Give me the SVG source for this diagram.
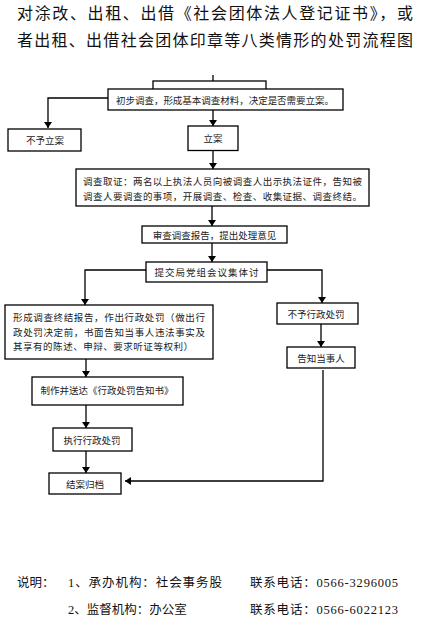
<svg xmlns="http://www.w3.org/2000/svg" width="443" height="626" viewBox="0 0 443 626">
<style>
.bg{fill:#fff}
.box{fill:#fff;stroke:#000;stroke-width:1.3}
.t{font-family:"Noto Sans CJK SC","Noto Sans CJK JP",sans-serif;font-size:9.5px;fill:#222;text-anchor:middle;dominant-baseline:central}
.tl{font-family:"Noto Sans CJK SC","Noto Sans CJK JP",sans-serif;font-size:9.5px;fill:#222;dominant-baseline:central}
.title{font-family:"Noto Sans CJK SC",sans-serif;font-size:16px;fill:#111}
.foot{font-family:"Liberation Serif","Noto Sans CJK SC",serif;font-size:12.5px;fill:#111}
.ln{fill:none;stroke:#000;stroke-width:1.3}
</style>
<defs>
<marker id="ah" viewBox="0 0 6 8" refX="6" refY="4" markerWidth="6" markerHeight="8" markerUnits="userSpaceOnUse" orient="auto">
<path d="M0,0 L6,4 L0,8 Z" fill="#000"/>
</marker>
</defs>
<rect class="bg" width="443" height="626"/>
<text class="title" x="17" y="19" textLength="396" lengthAdjust="spacing">对涂改、出租、出借《社会团体法人登记证书》，或</text>
<text class="title" x="17" y="46" textLength="396" lengthAdjust="spacing">者出租、出借社会团体印章等八类情形的处罚流程图</text>

<g id="connectors">
<path class="ln" d="M213,75 V89" marker-end="url(#ah)"/>
<path class="ln" d="M108,98 H48 V128" marker-end="url(#ah)"/>
<path class="ln" d="M213,110 V126" marker-end="url(#ah)"/>
<path class="ln" d="M213,150 V169" marker-end="url(#ah)"/>
<path class="ln" d="M212,206 V226" marker-end="url(#ah)"/>
<path class="ln" d="M212,243 V262" marker-end="url(#ah)"/>
<path class="ln" d="M146,270 H85 V305" marker-end="url(#ah)"/>
<path class="ln" d="M267,270 H322 V303" marker-end="url(#ah)"/>
<path class="ln" d="M321,324 V347" marker-end="url(#ah)"/>
<path class="ln" d="M86,359 V377" marker-end="url(#ah)"/>
<path class="ln" d="M86,405 V428" marker-end="url(#ah)"/>
<path class="ln" d="M86,451 V473" marker-end="url(#ah)"/>
<path class="ln" d="M323,370 V481 H125" marker-end="url(#ah)"/>
</g>

<g id="n0"><rect class="box" x="153" y="81" width="113" height="12"/></g>
<g id="n1"><rect class="box" x="108" y="89" width="235" height="21"/><text class="t" x="225" y="100" textLength="218" lengthAdjust="spacing">初步调查，形成基本调查材料，决定是否需要立案。</text></g>
<g id="n2"><rect class="box" x="8" y="129" width="73" height="22"/><text class="t" x="45" y="140">不予立案</text></g>
<g id="n3"><rect class="box" x="188" y="126" width="50" height="24.5"/><text class="t" x="213" y="138">立案</text></g>
<g id="n4"><rect class="box" x="76" y="169" width="293" height="37"/>
<text class="tl" x="83" y="181" textLength="279" lengthAdjust="spacing">调查取证：两名以上执法人员向被调查人出示执法证件，告知被</text>
<text class="tl" x="83" y="196" textLength="279" lengthAdjust="spacing">调查人要调查的事项，开展调查、检查、收集证据、调查终结。</text></g>
<g id="n5"><rect class="box" x="142" y="226" width="145" height="17"/><text class="t" x="214.5" y="234.5">审查调查报告，提出处理意见</text></g>
<g id="n6"><rect class="box" x="146" y="262" width="121" height="20"/><text class="t" x="206.5" y="272" textLength="104" lengthAdjust="spacing">提交局党组会议集体讨</text></g>
<g id="n7"><rect class="box" x="5" y="305" width="208" height="54"/>
<text class="tl" x="13" y="317" textLength="192" lengthAdjust="spacing">形成调查终结报告，作出行政处罚（做出行</text>
<text class="tl" x="13" y="332" textLength="192" lengthAdjust="spacing">政处罚决定前，书面告知当事人违法事实及</text>
<text class="tl" x="13" y="346" textLength="180" lengthAdjust="spacing">其享有的陈述、申辩、要求听证等权利）</text></g>
<g id="n8"><rect class="box" x="277" y="303" width="81" height="21"/><text class="t" x="316" y="313.5">不予行政处罚</text></g>
<g id="n9"><rect class="box" x="287" y="347" width="68" height="21"/><text class="t" x="321" y="357.5">告知当事人</text></g>
<g id="n10"><rect class="box" x="32" y="377" width="151" height="28"/><text class="t" x="107" y="390">制作并送达《行政处罚告知书》</text></g>
<g id="n11"><rect class="box" x="53" y="428" width="79" height="23"/><text class="t" x="92" y="439.5">执行行政处罚</text></g>
<g id="n12"><rect class="box" x="49" y="473" width="72" height="21"/><text class="t" x="85" y="483.5">结案归档</text></g>

<text class="foot" x="17" y="587" fill="#555">说明：</text>
<text class="foot" x="68" y="587" textLength="154" lengthAdjust="spacing">1、承办机构：社会事务股</text>
<text class="foot" x="250" y="587" textLength="148" lengthAdjust="spacing">联系电话：0566-3296005</text>
<text class="foot" x="68" y="614">2、监督机构：办公室</text>
<text class="foot" x="250" y="614" textLength="148" lengthAdjust="spacing">联系电话：0566-6022123</text>
</svg>
